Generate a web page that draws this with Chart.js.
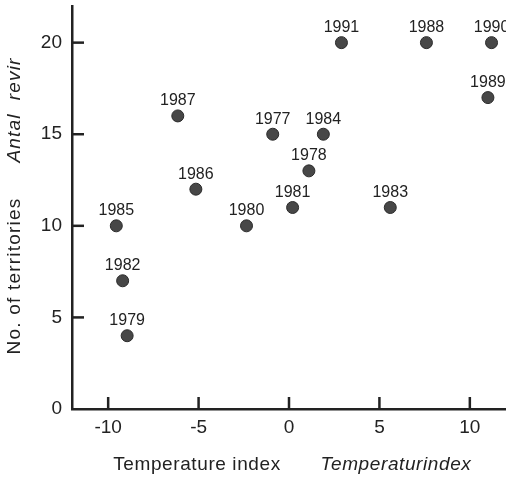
<!DOCTYPE html>
<html>
<head>
<meta charset="utf-8">
<script src="https://cdn.jsdelivr.net/npm/chart.js@4"></script>
<style>
  html, body { margin: 0; padding: 0; background: #fff; overflow: hidden; }
  canvas { display: block; }
</style>
</head>
<body>
<canvas id="grafico" width="506" height="477"></canvas>
<script>
var years = [1977, 1978, 1979, 1980, 1981, 1982, 1983, 1984, 1985, 1986, 1987, 1988, 1989, 1990, 1991];
var tempIndex = [-0.9, 1.1, -8.95, -2.35, 0.2, -9.2, 5.6, 1.9, -9.55, -5.15, -6.15, 7.6, 11.0, 11.2, 2.9];
var territories = [15, 13, 4, 10, 11, 7, 11, 15, 10, 12, 16, 20, 17, 20, 20];
var xTicks = [-10, -5, 0, 5, 10];
var yTicks = [0, 5, 10, 15, 20];

var ink = '#222';
var font = '"Liberation Sans", Arial, Helvetica, sans-serif';

// year labels above each point
var yearLabels = {
	id: 'yearLabels',
	afterDatasetsDraw: function(chart){
		var ctx = chart.ctx;
		var meta = chart.getDatasetMeta(0);
		ctx.save();
		ctx.fillStyle = ink;
		ctx.font = '16px ' + font;
		ctx.textAlign = 'center';
		ctx.textBaseline = 'middle';
		meta.data.forEach(function(pt, i){
			ctx.fillText(String(years[i]), pt.x, pt.y - 15);
		});
		ctx.restore();
	}
};

// inward tick marks and the two-language axis titles
var axisExtras = {
	id: 'axisExtras',
	afterDraw: function(chart){
		var ctx = chart.ctx;
		var xs = chart.scales.x, ys = chart.scales.y;
		var area = chart.chartArea;
		ctx.save();
		ctx.strokeStyle = ink;
		ctx.lineWidth = 2.5;
		xTicks.forEach(function(v){
			var px = xs.getPixelForValue(v);
			ctx.beginPath();
			ctx.moveTo(px, area.bottom);
			ctx.lineTo(px, area.bottom - 12);
			ctx.stroke();
		});
		yTicks.forEach(function(v){
			if (v === 0) return;
			var py = ys.getPixelForValue(v);
			ctx.beginPath();
			ctx.moveTo(area.left, py);
			ctx.lineTo(area.left + 12, py);
			ctx.stroke();
		});

		ctx.fillStyle = ink;
		ctx.textAlign = 'center';
		ctx.textBaseline = 'middle';
		ctx.letterSpacing = '0.6px';
		ctx.font = '19px ' + font;
		ctx.fillText('Temperature index', 197, 465);
		ctx.font = 'italic 19px ' + font;
		ctx.fillText('Temperaturindex', 396, 465);

		ctx.save();
		ctx.translate(15, 0);
		ctx.rotate(-Math.PI / 2);
		ctx.letterSpacing = '1.2px';
		ctx.font = '19px ' + font;
		ctx.fillText('No. of territories', -276, 0);
		ctx.font = 'italic 19px ' + font;
		ctx.fillText('Antal  revir', -110, 0);
		ctx.restore();
		ctx.restore();
	}
};

function noPad(s){
	s.paddingTop = 0;
	s.paddingBottom = 0;
	s.paddingLeft = 0;
	s.paddingRight = 0;
}

function exibirGrafico(){
	var data = {
		datasets: [{
			data: tempIndex.map(function(x, i){ return {x: x, y: territories[i]}; }),
			backgroundColor: '#474747',
			borderColor: '#2b2b2b',
			borderWidth: 1,
			pointRadius: 6,
			pointHoverRadius: 6,
			clip: false
		}]
	};

	var options = {
		responsive: false,
		animation: false,
		layout: { autoPadding: false, padding: { top: 6, left: 0, right: 0, bottom: 0 } },
		plugins: {
			legend: { display: false },
			tooltip: { enabled: false }
		},
		scales: {
			x: {
				type: 'linear',
				min: -12,
				max: 12,
				afterBuildTicks: function(s){ s.ticks = xTicks.map(function(v){ return {value: v}; }); },
				afterFit: function(s){ s.height = 68; noPad(s); },
				grid: { display: false, drawTicks: false },
				border: { display: true, color: ink, width: 2.5 },
				ticks: { color: ink, padding: 7, font: { size: 19, family: font }, maxRotation: 0 }
			},
			y: {
				min: 0,
				max: 22,
				afterBuildTicks: function(s){ s.ticks = yTicks.map(function(v){ return {value: v}; }); },
				afterFit: function(s){ s.width = 72; noPad(s); },
				grid: { display: false, drawTicks: false },
				border: { display: true, color: ink, width: 2.5 },
				ticks: { color: ink, padding: 10, font: { size: 19, family: font } }
			}
		}
	};

	var ctx = document.getElementById('grafico').getContext('2d');
	new Chart(ctx, { type: 'scatter', data: data, options: options, plugins: [yearLabels, axisExtras] });
}

exibirGrafico();
</script>
</body>
</html>
